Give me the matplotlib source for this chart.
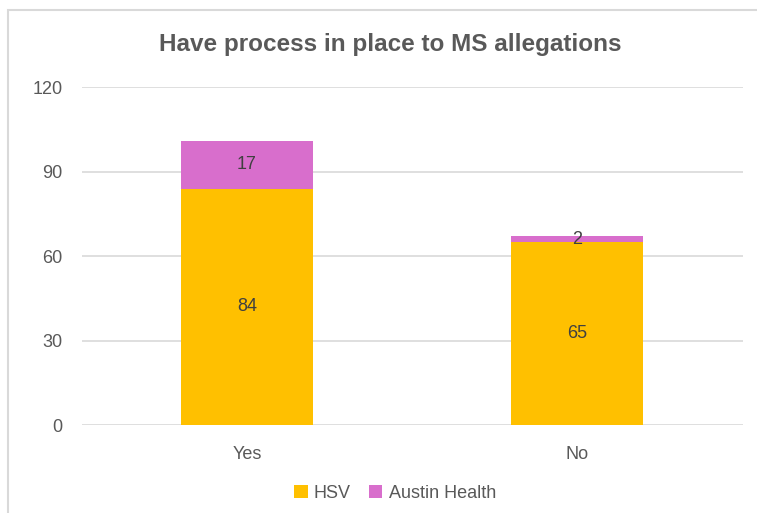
import numpy as np
import matplotlib
matplotlib.use("Agg")
import matplotlib.pyplot as plt
from matplotlib.patches import Rectangle

categories = ["Yes", "No"]
hsv = [84, 65]
austin = [17, 2]
series_names = ["HSV", "Austin Health"]
colors = ["#FFC000", "#D86ECC"]
yticks = [0, 30, 60, 90, 120]

plt.rcParams["font.family"] = ["Liberation Sans", "DejaVu Sans"]
grey = "#595959"

fig = plt.figure(figsize=(7.57, 5.13), dpi=100)
ax = fig.add_axes([0.108, 0.1715, 0.873, 0.6585])

x = np.arange(len(categories))
ax.bar(x, hsv, width=0.4, color=colors[0], label=series_names[0], zorder=3)
ax.bar(x, austin, width=0.4, bottom=hsv, color=colors[1], label=series_names[1], zorder=3)

for i in range(len(categories)):
    ax.text(x[i], hsv[i] / 2, str(hsv[i]), ha="center", va="center", fontsize=13, color="#404040", zorder=4)
    ax.text(x[i], hsv[i] + austin[i] / 2, str(austin[i]), ha="center", va="center", fontsize=13, color="#404040", zorder=4)

ax.set_xlim(-0.5, 1.5)
ax.set_ylim(0, 120)
ax.set_yticks(yticks)
ax.set_xticks(x)
ax.set_xticklabels(categories)
ax.grid(axis="y", color="#D9D9D9", linewidth=1.2, zorder=0)
for s in ax.spines.values():
    s.set_visible(False)
ax.tick_params(length=0, labelsize=13, colors=grey)
ax.tick_params(axis="x", pad=15)
ax.tick_params(axis="y", pad=14)

fig.text(390 / 757, 1 - 45 / 513, "Have process in place to MS allegations", fontsize=17.5,
         fontweight="bold", color=grey, ha="center", va="center")

ax.legend(loc="center", bbox_to_anchor=(395 / 757, 1 - 493 / 513), bbox_transform=fig.transFigure,
          ncol=2, frameon=False, fontsize=13, labelcolor=grey, handlelength=0.75,
          handleheight=0.75, handletextpad=0.35, columnspacing=1.0)

fig.patches.append(Rectangle((8 / 757, -0.1), 1.2, 1 - 10 / 513 + 0.1, transform=fig.transFigure,
                             fill=False, edgecolor="#D9D9D9", linewidth=1.5))

fig.savefig("out.png", dpi=100)
